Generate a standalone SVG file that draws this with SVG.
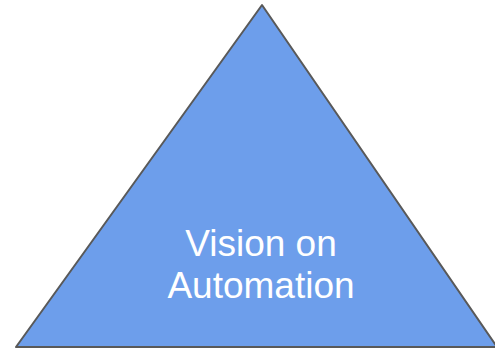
<svg xmlns="http://www.w3.org/2000/svg" width="495" height="349" viewBox="0 0 495 349">
<style>
.tri{fill:#6d9eeb;stroke:#595959;stroke-width:2;stroke-linejoin:round}
.lbl{font-family:"Liberation Sans",Arial,sans-serif;font-size:37px;fill:#ffffff;text-anchor:middle}
</style>
<rect width="495" height="349" fill="#ffffff"/>
<g id="triangle">
<polygon class="tri" points="262,5 16,347 497,347"/>
<text class="lbl" x="261" y="256">Vision on</text>
<text class="lbl" x="261" y="298">Automation</text>
</g>
<g id="connectors"/>
</svg>
